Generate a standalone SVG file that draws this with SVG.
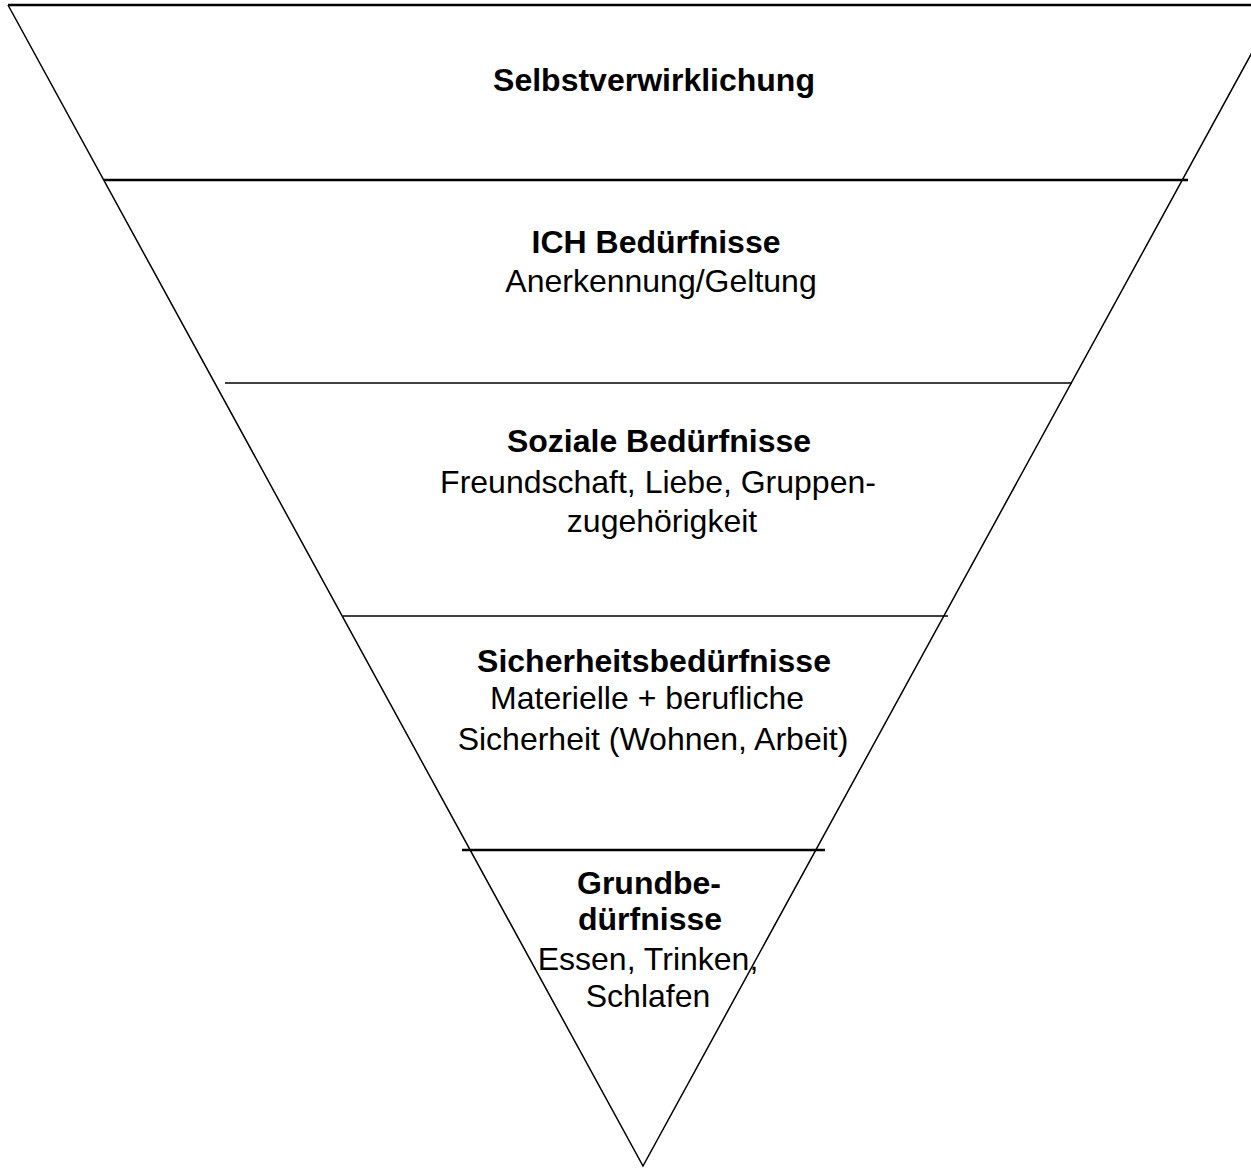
<svg xmlns="http://www.w3.org/2000/svg" width="1251" height="1170" viewBox="0 0 1251 1170">
<style>
.edge{stroke:#000;fill:none;stroke-width:1.5}
.thick{stroke:#000;fill:none;stroke-width:2.5}
.t{font-family:"Liberation Sans",Arial,sans-serif;font-size:32px;fill:#000;text-anchor:middle}
.b{font-weight:bold}
</style>
<rect width="1251" height="1170" fill="#fff"/>
<g id="triangle">
<polyline class="edge" points="8,5 643,1166 1278,5"/>
<line class="thick" x1="8" y1="5" x2="1251" y2="5"/>
</g>
<g id="connectors">
<line class="thick" x1="104" y1="180" x2="1188" y2="180"/>
<line class="edge" x1="225" y1="383" x2="1072" y2="383"/>
<line class="edge" x1="343" y1="616" x2="948" y2="616"/>
<line class="thick" x1="462" y1="850" x2="825" y2="850"/>
</g>
<g id="level-selbstverwirklichung">
<text class="t b" x="654" y="91">Selbstverwirklichung</text>
</g>
<g id="level-ich">
<text class="t b" x="656" y="253">ICH Bedürfnisse</text>
<text class="t" x="661" y="292">Anerkennung/Geltung</text>
</g>
<g id="level-sozial">
<text class="t b" x="659" y="452">Soziale Bedürfnisse</text>
<text class="t" x="658" y="493">Freundschaft, Liebe, Gruppen-</text>
<text class="t" x="662" y="532">zugehörigkeit</text>
</g>
<g id="level-sicherheit">
<text class="t b" x="654" y="672">Sicherheitsbedürfnisse</text>
<text class="t" x="647" y="709">Materielle + berufliche</text>
<text class="t" x="653" y="750">Sicherheit (Wohnen, Arbeit)</text>
</g>
<g id="level-grund">
<text class="t b" x="649" y="894">Grundbe-</text>
<text class="t b" x="650" y="930">dürfnisse</text>
<text class="t" x="648" y="970">Essen, Trinken,</text>
<text class="t" x="648" y="1007">Schlafen</text>
</g>
</svg>
